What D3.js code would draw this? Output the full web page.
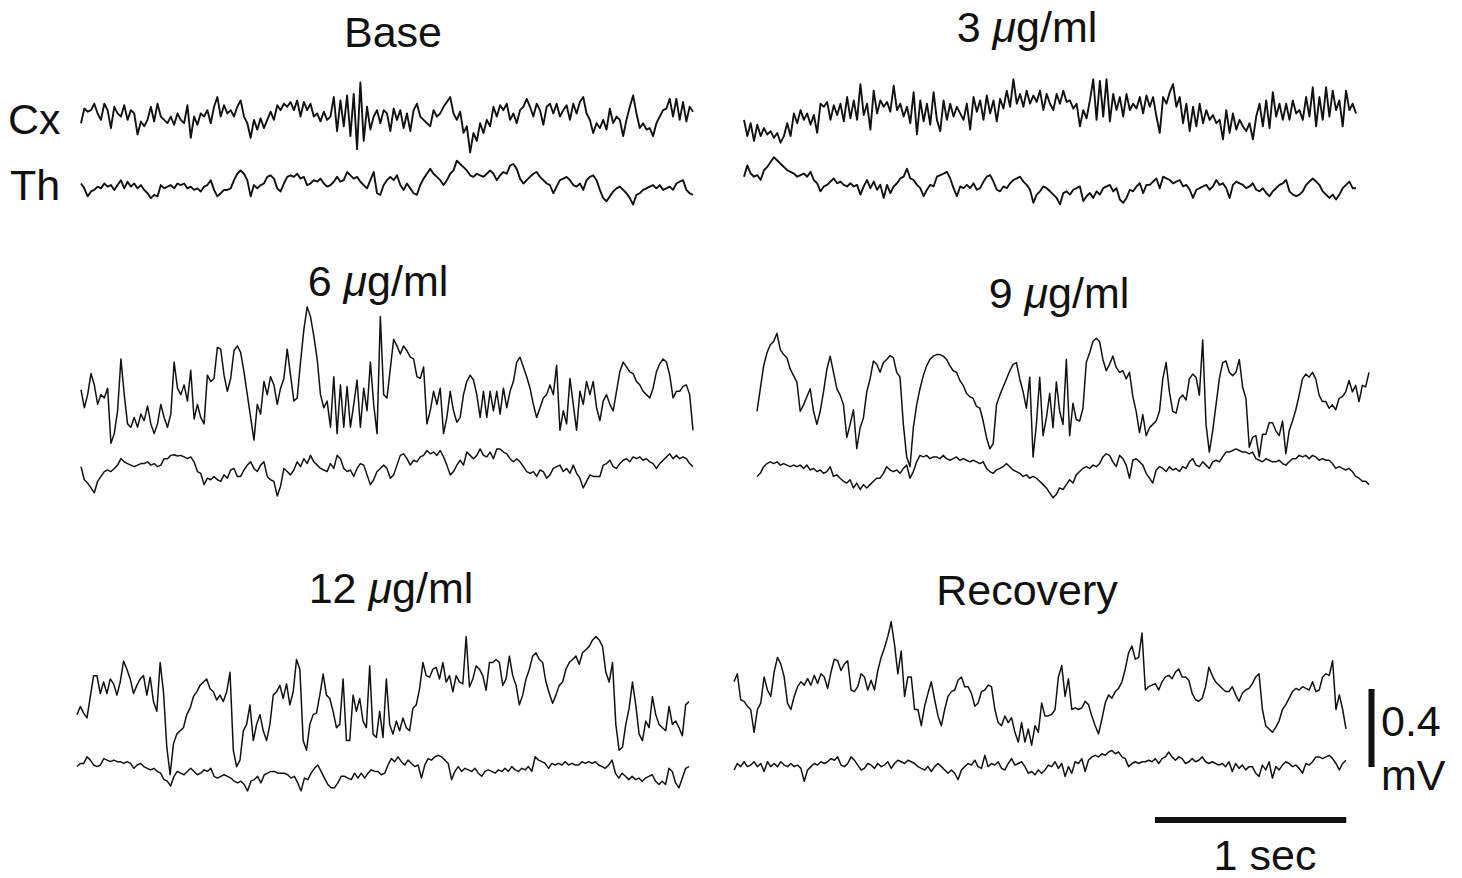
<!DOCTYPE html>
<html><head><meta charset="utf-8">
<script src="https://cdn.jsdelivr.net/npm/d3@7"></script>
<style>body{margin:0;background:#fff}svg{display:block}</style>
</head><body>
<svg id="chart" width="1462" height="878"></svg>
<script>
// ---- data (µV, uniformly sampled over the 3.2 s epoch) ----
const recordSeconds = 3.2;
const panelTitles = ["Base", "3 μg/ml", "6 μg/ml", "9 μg/ml", "12 μg/ml", "Recovery"];
const channelLabels = ["Cx", "Th"];
const ampBarValue = 400;   // µV  -> "0.4 mV"
const ampBarLabels = ["0.4", "mV"];
const timeBarValue = 1;    // s
const timeBarLabel = "1 sec";

const baseCx = [-42,33,17,25,58,8,-25,58,25,-67,42,8,-8,50,-25,25,8,-100,-33,-58,-25,42,-33,58,-8,-25,-42,-8,-50,8,-25,-42,50,-117,-8,-50,8,-8,25,-42,42,92,-8,50,8,25,-8,42,75,-8,-42,-117,-25,-75,-17,-67,-25,17,-25,50,25,58,42,67,25,75,-8,67,25,58,-8,8,-33,17,-25,-8,92,-83,75,-58,100,-108,108,-175,167,-133,42,-75,-8,25,-42,25,8,
-83,33,-25,25,-67,8,-83,25,58,-8,-25,-42,-58,25,-8,8,42,67,92,8,-25,17,-92,-58,-192,-92,-133,-42,-92,-25,-58,42,-8,50,25,58,-25,8,-42,25,42,83,42,-8,58,25,-50,42,58,8,58,-8,25,50,-25,58,8,67,92,8,-25,-92,-42,-67,-25,-75,33,-42,-8,-25,-108,-25,42,100,8,-67,-42,-75,-67,-108,-42,-8,25,33,83,-8,83,-25,67,-33,42,17];
const baseTh = [18,-7,-48,-23,-15,2,-7,18,2,10,-15,10,35,-7,27,2,18,-7,10,-15,-32,-57,-40,-48,10,-7,2,10,-7,18,10,18,-7,2,-15,-7,-23,2,10,35,-15,-48,-32,-15,-15,-7,35,68,85,68,35,-48,10,-7,10,18,52,60,43,-7,-23,18,52,60,52,68,43,52,10,18,35,27,43,18,2,10,27,52,27,35,77,60,43,52,27,10,-7,35,77,-32,-40,10,35,
52,35,60,10,-15,18,-7,-32,-40,10,43,68,93,68,52,35,10,35,68,85,135,118,102,85,60,52,68,60,52,68,85,68,35,60,77,68,110,118,93,43,18,35,52,68,77,52,35,18,10,-32,2,35,43,52,35,10,2,18,-15,35,52,60,35,-15,-57,-73,-48,-23,-7,2,-15,-32,-57,-90,-40,-32,-15,-7,2,10,-7,10,-15,-7,2,-15,18,27,35,-15,-32,-40];

const dose3Cx = [-25,-108,-42,-133,-50,-108,-67,-100,-83,-117,-92,-142,-108,-42,-108,8,-42,25,-25,8,-50,0,-92,58,42,67,-25,50,0,58,-33,92,-17,75,-25,158,0,58,-75,125,8,75,42,67,17,150,25,58,-8,42,-42,117,-100,75,-33,58,-50,117,-25,-83,75,-25,58,-8,42,8,-25,58,-75,92,17,75,-25,100,8,75,-33,83,33,125,42,183,58,108,42,125,58,100,67,125,25,108,58,
25,108,58,125,67,75,33,58,-58,25,-17,75,183,-25,175,-8,183,-33,108,25,92,-8,108,25,58,33,92,8,100,42,92,-8,-92,92,58,117,158,42,92,-42,58,-83,42,-58,58,-42,25,-25,0,-42,-25,-125,25,-92,8,-75,-25,-58,-83,-42,-125,-8,58,-58,75,-67,117,-8,58,-25,58,-25,75,8,25,-25,92,-8,142,-58,92,-25,142,-8,125,25,75,-58,125,25,58,8];
const dose3Th = [17,75,33,17,25,0,50,67,92,117,100,83,67,50,42,33,17,25,33,17,42,0,-17,-58,-33,-25,-8,8,-17,-8,-25,-33,-17,-33,-25,-75,-33,0,-42,-8,-50,-25,-92,-25,-67,-33,-17,8,17,58,8,0,-25,-42,-83,-50,-25,-33,17,25,33,42,8,-42,-83,-33,-42,-25,-42,-17,-50,-42,-8,17,25,-8,-50,-58,-33,-42,-17,0,8,17,-8,-25,-50,-117,-75,-58,-33,-42,-58,
-75,-92,-125,-67,-58,-75,-50,-42,-33,-108,-83,-67,-92,-58,-75,-42,-33,-25,-58,-42,-100,-117,-92,-50,-58,-33,-17,-67,-25,-25,-8,8,-42,17,8,0,-17,-8,0,-33,-25,-50,-92,-50,-42,-33,-25,-50,-33,0,-25,-17,-42,-92,-25,-8,-17,-25,-42,-33,-17,-50,-58,-42,-67,-83,-58,-42,-25,-17,0,-58,-75,-83,-75,-58,-25,-8,8,-8,-25,-58,-75,-92,-75,-100,-75,-42,-25,-8,-42,-42];

const dose6Cx = [-50,-142,-75,33,-25,-125,-75,-92,-42,-325,-275,-158,108,-75,-225,-242,-192,-242,-175,-208,-133,-225,-275,-225,-125,-192,-242,-175,92,-42,-75,-25,-108,50,-200,-125,-192,-225,25,-8,8,167,158,25,-58,8,150,175,142,42,-75,-192,-308,-125,-175,-8,-75,17,-25,-125,-42,8,158,25,-108,-92,92,258,375,325,225,108,-75,-142,-108,-242,17,-275,-25,-242,-33,-242,-125,0,-242,-42,-158,92,-125,-275,325,-75,-92,
58,208,175,133,175,150,117,108,17,8,67,-225,-158,-58,-125,-42,-275,-192,-58,-158,-217,-192,-75,-8,25,0,-75,-192,-58,-192,-58,-158,-58,-175,-42,-142,-58,-8,92,117,67,17,-42,-125,-192,-142,-92,-75,-25,-75,75,-258,-158,-225,8,-125,-258,-58,-125,-8,-75,-8,-142,-208,-108,-75,-125,-158,-58,42,92,67,42,33,-8,-25,-58,-75,-92,-42,42,83,108,92,25,-92,-58,-58,-33,-25,-75,-258];
const dose6Th = [17,-50,-67,-92,-117,-58,-33,-8,0,-8,8,25,58,42,33,25,17,25,33,33,42,25,33,17,25,58,58,75,78,72,75,67,58,67,42,-8,-17,-75,-42,-50,-33,-50,-58,-25,-42,0,8,-33,-33,0,25,42,8,-8,25,42,-33,-50,-58,-133,-83,8,-8,-25,0,42,17,58,33,75,42,25,8,0,-8,33,8,75,58,8,-8,0,-33,8,33,25,-25,-75,-50,-8,8,25,8,
-42,-25,25,75,83,58,25,50,42,67,75,100,83,92,75,100,67,25,-25,-8,25,50,25,92,75,58,75,108,75,67,92,58,108,108,92,83,58,42,58,42,17,-8,-17,-8,-33,0,-8,-42,-25,8,17,25,-8,8,-17,25,-17,-42,-92,-58,-25,-33,-33,-33,25,33,50,17,8,33,50,58,42,67,58,67,50,58,42,33,8,33,50,67,83,58,75,58,67,58,33,17];

const dose9Cx = [-58,58,175,242,283,300,342,258,233,217,158,125,92,-58,-25,17,58,-58,-125,-58,42,158,225,142,58,25,-25,-192,-125,-50,-250,-142,-92,42,108,200,183,142,192,208,228,217,142,117,-125,-292,-342,-142,-25,58,125,175,208,225,233,233,225,208,175,150,142,100,75,33,17,8,-33,-42,-108,-192,-250,-225,-25,25,67,108,150,183,192,108,42,-42,117,-292,-125,117,-183,-92,33,-142,92,-58,
-125,208,-183,-17,-100,-108,-42,192,242,300,317,300,208,150,183,225,167,142,150,108,142,17,-58,-167,-75,-183,-142,-125,-108,-58,108,192,42,-58,-67,8,25,0,108,133,117,25,308,-125,-267,-158,-25,108,192,200,142,125,142,208,67,8,-242,-192,-183,-292,-175,-175,-117,-117,-158,-183,-108,-275,-158,-108,-50,25,108,133,117,142,108,25,-8,-8,-42,-25,-50,8,17,42,100,42,75,-8,75,67,142];
const dose9Th = [-33,-17,17,33,42,33,42,25,33,25,17,25,17,25,8,25,0,8,-8,0,-17,-8,17,-33,-25,-42,-58,-67,-50,-92,-67,-100,-75,-92,-75,-58,-42,-42,-17,17,0,-8,0,-17,8,25,-42,-8,42,75,67,75,58,67,67,58,75,58,50,58,67,50,58,50,42,50,42,33,42,8,-8,-17,0,8,17,33,17,0,-8,-17,-33,-25,-42,-33,-42,-58,-75,-92,-117,-142,-125,-92,
-100,-75,-50,-67,-25,-8,8,17,8,25,17,33,67,83,75,42,17,75,58,25,-42,50,58,42,25,-17,-42,-67,0,17,8,-8,17,0,8,-8,17,8,42,58,25,17,42,25,8,42,50,42,67,92,92,100,108,100,92,92,83,92,58,50,42,58,50,42,42,50,33,25,42,58,58,75,67,75,58,75,67,50,58,50,50,33,8,17,8,0,8,-8,-33,-42,-58,-58,-75];

const dose12Cx = [-75,-33,-67,-92,17,125,125,33,92,33,108,83,25,92,200,158,108,33,75,108,125,25,117,-8,-58,192,42,-242,-383,-225,-175,-158,-142,-75,-42,17,42,75,92,108,58,42,0,25,-8,42,142,-258,-342,-308,-158,-125,-25,-208,-125,-75,-158,-208,-125,25,42,75,8,83,-25,42,208,158,-208,-258,-125,-75,-67,25,133,25,8,-58,-142,-125,108,-208,-208,25,-58,8,-108,-142,175,-175,-192,-58,-192,
108,-125,-175,-108,-158,-92,-142,-158,-42,-25,58,192,125,117,158,167,108,192,92,125,42,125,92,83,325,67,108,175,158,125,50,192,192,208,192,75,108,225,125,75,-25,25,108,158,225,242,208,192,92,33,-17,25,75,92,158,192,208,225,183,242,258,275,308,325,308,275,142,92,192,-125,-258,-242,-125,-42,92,-25,-175,-208,-108,-142,17,-75,-125,-142,-158,-33,-125,-108,-142,-183,-25,-8];
const dose12Th = [-8,8,8,42,25,0,-8,0,33,25,17,25,17,17,8,17,8,-17,0,8,-8,-17,-25,-17,-33,-42,-75,-83,-108,-58,-33,-42,-50,-33,-17,-33,-50,-42,-25,-33,-17,-58,-67,-58,-50,-58,-67,-83,-92,-83,-100,-133,-83,-75,-58,-92,-50,-42,-33,-33,-42,-42,-42,-50,-67,-58,-92,-133,-67,-75,-42,-17,0,-33,-67,-100,-117,-117,-92,-58,-58,-67,-75,-42,-67,-42,-67,-42,-25,-33,-33,-50,-42,
0,33,17,42,17,0,25,8,-8,0,-67,0,33,25,42,50,42,25,8,-75,-33,-8,-33,-17,-25,-33,-17,-42,-58,-33,-25,-33,-42,-25,-33,-17,-33,-8,-25,-33,-17,-25,-8,-33,42,25,17,8,-17,8,0,8,0,17,0,8,0,0,17,8,17,8,17,0,-8,-17,0,25,-42,-67,-42,-58,-75,-58,-75,-67,-83,-67,-58,-50,-83,-100,-83,-100,-17,-33,-92,-117,-67,-17,-8];

const recoveryCx = [42,83,-50,-58,-83,-100,-217,-100,-67,67,0,-33,92,167,133,67,-67,-100,-33,17,42,25,58,25,75,33,83,67,8,92,158,150,100,133,150,0,-8,17,83,67,0,50,0,100,167,217,275,350,233,83,200,-33,67,67,-100,-100,-183,-83,-17,42,-50,-133,-183,-100,-33,-8,0,50,67,17,17,-17,-83,-67,-8,0,25,17,-100,-167,-183,-133,-167,-142,-217,-267,-167,-267,-200,-283,-183,-217,-67,
-133,-133,-125,-100,67,125,-33,58,-100,-92,-100,-92,-58,-75,-133,-183,-225,-150,-67,-25,-42,-8,8,42,108,192,225,158,167,292,0,17,25,33,0,42,67,75,58,92,108,67,67,50,-17,-50,-58,-42,17,117,75,42,25,8,-8,-8,17,-25,-58,-17,0,8,33,67,83,-100,-183,-200,-217,-192,-158,-100,-75,-42,-8,8,0,17,8,0,42,-8,0,67,83,75,150,-100,-25,-100,-200];
const recoveryTh = [-10,23,7,32,7,15,32,7,23,-18,32,7,23,7,32,15,7,23,7,15,-2,-68,-10,7,23,15,32,23,32,48,40,57,15,7,23,57,40,15,-10,-2,23,15,-2,23,7,15,32,-2,23,40,32,23,40,32,23,7,-2,-10,7,-18,7,23,7,-10,-27,-10,-27,-60,-10,7,23,15,40,7,-2,65,7,23,15,32,-2,-10,23,48,15,23,32,7,-27,-18,-35,-10,-27,
-10,15,7,32,-2,23,-43,7,-27,32,23,48,-18,40,57,65,57,73,65,82,90,73,82,57,48,7,23,32,23,32,32,40,32,48,23,48,57,82,57,40,57,48,23,32,48,32,40,57,32,23,32,23,15,23,7,32,-18,23,-2,15,-10,7,7,-27,-43,15,-10,32,-52,7,-10,15,32,23,7,15,-2,-27,23,15,32,57,57,48,57,65,48,23,-10,23,40];

// ---- layout (pixels) ----
const panels = [
  {title: panelTitles[0], cx: baseCx,     th: baseTh,     x0: 81,  cxY: 115, thY: 187, tx: 393,  ty: 47,  sw: 1.9},
  {title: panelTitles[1], cx: dose3Cx,    th: dose3Th,    x0: 744, cxY: 115, thY: 180, tx: 1027, ty: 42,  sw: 1.9},
  {title: panelTitles[2], cx: dose6Cx,    th: dose6Th,    x0: 81,  cxY: 380, thY: 470, tx: 378,  ty: 296, sw: 1.5},
  {title: panelTitles[3], cx: dose9Cx,    th: dose9Th,    x0: 757, cxY: 400, thY: 470, tx: 1059, ty: 308, sw: 1.5},
  {title: panelTitles[4], cx: dose12Cx,   th: dose12Th,   x0: 77,  cxY: 700, thY: 765, tx: 391,  ty: 603, sw: 1.5},
  {title: panelTitles[5], cx: recoveryCx, th: recoveryTh, x0: 734, cxY: 690, thY: 768, tx: 1027, ty: 605, sw: 1.5}
];

const svg = d3.select("#chart");
const FONT = "'Liberation Sans', Arial, Helvetica, sans-serif";
const FS = 43;
const ink = "#111";

const tScale = d3.scaleLinear().domain([0, recordSeconds]).range([0, 612]);
const aScale = d3.scaleLinear().domain([0, ampBarValue]).range([0, 78]);

function drawTrace(values, x0, yBase, sw) {
  const n = values.length;
  const line = d3.line()
    .x((d, i) => x0 + tScale(i * recordSeconds / (n - 1)))
    .y(d => yBase - aScale(d));
  svg.append("path").datum(values)
    .attr("d", line)
    .attr("fill", "none")
    .attr("stroke", ink)
    .attr("stroke-width", sw)
    .attr("stroke-linejoin", "round");
}

function addTitle(text, x, y) {
  const t = svg.append("text").attr("x", x).attr("y", y)
    .attr("text-anchor", "middle")
    .attr("font-family", FONT).attr("font-size", FS).attr("fill", ink);
  const idx = text.indexOf("μ");
  if (idx < 0) { t.text(text); return; }
  t.append("tspan").text(text.slice(0, idx));
  t.append("tspan").attr("font-style", "italic").text("μ");
  t.append("tspan").text(text.slice(idx + 1));
}

panels.forEach(p => {
  drawTrace(p.cx, p.x0, p.cxY, p.sw);
  drawTrace(p.th, p.x0, p.thY, p.sw);
  addTitle(p.title, p.tx, p.ty);
});

// channel labels
svg.append("text").attr("x", 8).attr("y", 134).attr("font-family", FONT)
  .attr("font-size", FS).attr("fill", ink).text(channelLabels[0]);
svg.append("text").attr("x", 10).attr("y", 200).attr("font-family", FONT)
  .attr("font-size", FS).attr("fill", ink).text(channelLabels[1]);

// amplitude scale bar
const ampTop = 689;
svg.append("line").attr("x1", 1371.5).attr("x2", 1371.5)
  .attr("y1", ampTop).attr("y2", ampTop + aScale(ampBarValue))
  .attr("stroke", ink).attr("stroke-width", 6);
svg.append("text").attr("x", 1381).attr("y", 736).attr("font-family", FONT)
  .attr("font-size", FS).attr("fill", ink).text(ampBarLabels[0]);
svg.append("text").attr("x", 1381).attr("y", 790).attr("font-family", FONT)
  .attr("font-size", FS).attr("fill", ink).text(ampBarLabels[1]);

// time scale bar
const tbX0 = 1155;
svg.append("line").attr("x1", tbX0).attr("x2", tbX0 + tScale(timeBarValue))
  .attr("y1", 820).attr("y2", 820)
  .attr("stroke", ink).attr("stroke-width", 6);
svg.append("text").attr("x", 1265).attr("y", 870).attr("text-anchor", "middle")
  .attr("font-family", FONT).attr("font-size", FS).attr("fill", ink).text(timeBarLabel);
</script>
</body></html>
